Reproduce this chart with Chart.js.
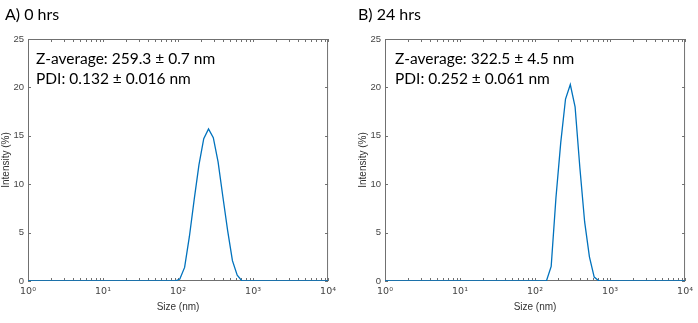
<!DOCTYPE html>
<html>
<head>
<meta charset="utf-8">
<script src="https://cdn.jsdelivr.net/npm/chart.js@4.4.0/dist/chart.umd.min.js"></script>
<style>
  body { margin: 0; background: #fff; }
  #wrap { position: relative; width: 698px; height: 323px; overflow: hidden; font-family: Lato, "Open Sans", sans-serif; }
  .panel { position: absolute; top: 0; width: 341px; height: 323px; }
  .ttl { position: absolute; font-size: 16px; color: #000; white-space: nowrap; }
  .note { position: absolute; font-size: 15.5px; line-height: 20px; color: #000; white-space: nowrap; }
</style>
</head>
<body>
<div id="wrap">
  <div class="panel" style="left:0px"><canvas id="chartA" width="341" height="323"></canvas></div>
  <div class="panel" style="left:357px"><canvas id="chartB" width="341" height="323"></canvas></div>
  <div class="ttl" style="left:5px; top:4px">A) 0 hrs</div>
  <div class="ttl" style="left:358px; top:4px">B) 24 hrs</div>
  <div class="note" style="left:36px; top:48px">Z-average: 259.3 ± 0.7 nm<br>PDI: 0.132 ± 0.016 nm</div>
  <div class="note" style="left:395px; top:48px">Z-average: 322.5 ± 4.5 nm<br>PDI: 0.252 ± 0.061 nm</div>
</div>
<script>
// size classes (nm)
const sizes = [0.4, 0.4632, 0.5365, 0.6213, 0.7195, 0.8332, 0.9649, 1.117, 1.294, 1.499,
  1.736, 2.01, 2.328, 2.696, 3.122, 3.615, 4.187, 4.849, 5.615, 6.503,
  7.531, 8.721, 10.1, 11.7, 13.54, 15.69, 18.17, 21.04, 24.36, 28.21,
  32.67, 37.84, 43.82, 50.75, 58.77, 68.06, 78.82, 91.28, 105.7, 122.4,
  141.8, 164.2, 190.1, 220.2, 255.0, 295.3, 342.0, 396.1, 458.7, 531.2,
  615.1, 712.4, 825.0, 955.4, 1106, 1281, 1484, 1718, 1990, 2305,
  2669, 3091, 3580, 4145, 4801, 5560, 6439, 7456, 8635, 10000];

// intensity (%) at 0 hrs
const intensity0h = [0, 0, 0, 0, 0, 0, 0, 0, 0, 0,
  0, 0, 0, 0, 0, 0, 0, 0, 0, 0,
  0, 0, 0, 0, 0, 0, 0, 0, 0, 0,
  0, 0, 0, 0, 0, 0, 0, 0, 0.2, 1.4,
  4.6, 8.4, 12.0, 14.7, 15.7, 14.8, 12.3, 8.7, 5.2, 2.1,
  0.6, 0, 0, 0, 0, 0, 0, 0, 0, 0,
  0, 0, 0, 0, 0, 0, 0, 0, 0, 0];

// intensity (%) at 24 hrs
const intensity24h = [0, 0, 0, 0, 0, 0, 0, 0, 0, 0,
  0, 0, 0, 0, 0, 0, 0, 0, 0, 0,
  0, 0, 0, 0, 0, 0, 0, 0, 0, 0,
  0, 0, 0, 0, 0, 0, 0, 0, 0, 0,
  0, 1.5, 8.6, 14.3, 18.8, 20.3, 18.0, 11.7, 6.1, 2.5,
  0.4, 0, 0, 0, 0, 0, 0, 0, 0, 0,
  0, 0, 0, 0, 0, 0, 0, 0, 0, 0];

const yTicks = [0, 5, 10, 15, 20, 25];
const decades = [1, 10, 100, 1000];
const supers = ['\u2070', '\u00b9', '\u00b2', '\u00b3', '\u2074'];

// minor + major tick positions on the log axis
const xTickVals = [];
decades.forEach(d => { for (let m = 1; m < 10; m++) xTickVals.push(m * d); });
xTickVals.push(10000);

const boxTicks = {
  id: 'boxTicks',
  beforeDatasetsDraw(chart) {
    const { ctx, chartArea: a, scales: { x, y } } = chart;
    ctx.save();
    ctx.strokeStyle = '#707070';
    ctx.lineWidth = 1;
    ctx.beginPath();
    xTickVals.forEach(v => {
      const px = Math.round(x.getPixelForValue(v)) + 0.5;
      ctx.moveTo(px, a.bottom); ctx.lineTo(px, a.bottom - 3);
      ctx.moveTo(px, a.top); ctx.lineTo(px, a.top + 3);
    });
    yTicks.forEach(v => {
      const py = Math.round(y.getPixelForValue(v)) + 0.5;
      ctx.moveTo(a.left, py); ctx.lineTo(a.left + 3, py);
      ctx.moveTo(a.right, py); ctx.lineTo(a.right - 3, py);
    });
    ctx.stroke();
    ctx.strokeRect(a.left + 0.5, a.top + 0.5, a.width - 1, a.height - 1);
    ctx.restore();
  }
};

function makeChart(id, values) {
  const points = sizes.map((s, i) => ({ x: s, y: values[i] }));
  return new Chart(document.getElementById(id), {
    type: 'line',
    data: {
      datasets: [{
        data: points,
        borderColor: '#0072BD',
        borderWidth: 1.3,
        pointRadius: 0,
        tension: 0
      }]
    },
    options: {
      responsive: false,
      animation: false,
      layout: { padding: { top: 39, right: 8, left: 0, bottom: 0 } },
      plugins: { legend: { display: false }, tooltip: { enabled: false } },
      scales: {
        x: {
          type: 'logarithmic',
          min: 1,
          max: 10000,
          grid: { display: false, drawTicks: false },
          border: { display: false },
          afterFit: s => { s.height = 42; },
          ticks: {
            autoSkip: false,
            maxRotation: 0,
            padding: 5,
            color: '#444',
            font: { family: 'DejaVu Sans', size: 9.5 },
            callback: v => {
              const e = Math.round(Math.log10(v));
              return Math.abs(Math.log10(v) - e) < 1e-9 ? '10' + supers[e] : '';
            }
          },
          title: {
            display: true,
            text: 'Size (nm)',
            color: '#333',
            font: { family: 'Liberation Sans', size: 10 },
            padding: { top: 0, bottom: 10 }
          }
        },
        y: {
          min: 0,
          max: 25,
          grid: { display: false, drawTicks: false },
          border: { display: false },
          afterFit: s => { s.width = 28; },
          ticks: {
            stepSize: 5,
            padding: 4,
            color: '#444',
            font: { family: 'Liberation Sans', size: 9.5 }
          },
          title: {
            display: true,
            text: 'Intensity (%)',
            color: '#333',
            font: { family: 'Liberation Sans', size: 10 },
            padding: 0
          }
        }
      }
    },
    plugins: [boxTicks]
  });
}

makeChart('chartA', intensity0h);
makeChart('chartB', intensity24h);
</script>
</body>
</html>
